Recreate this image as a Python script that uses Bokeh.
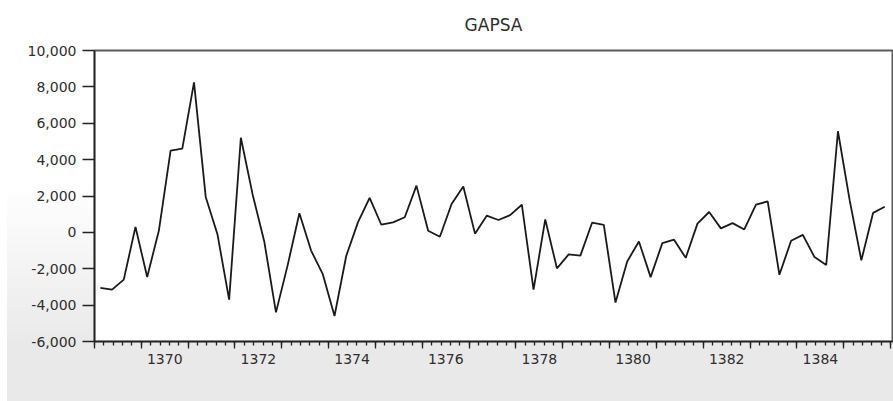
from bokeh.plotting import figure
from bokeh.models import Range1d, FixedTicker, LinearAxis, NumeralTickFormatter, ColumnDataSource
from bokeh.embed import file_html
from bokeh.resources import INLINE

# ---- data (quarterly, 1369Q1 .. 1385Q4) ----
series_name = "GAPSA"
start_year = 1369
end_year = 1386
quarters_per_year = 4
gapsa = [
    -3050, -3150, -2600, 300,
    -2450, 100, 4500, 4600,
    8250, 1950, -100, -3700,
    5200, 2100, -500, -4400,
    -1800, 1050, -1000, -2300,
    -4600, -1300, 550, 1900,
    420, 550, 830, 2570,
    90, -240, 1560, 2520,
    -70, 920, 680, 950,
    1520, -3150, 710, -1980,
    -1210, -1280, 530, 410,
    -3860, -1600, -500, -2460,
    -590, -400, -1400, 480,
    1120, 220, 510, 160,
    1520, 1700, -2330, -460,
    -140, -1360, -1790, 5560,
    1770, -1540, 1070, 1410,
]
x_label_years = [1370, 1372, 1374, 1376, 1378, 1380, 1382, 1384]
y_ticks = [-6000, -4000, -2000, 0, 2000, 4000, 6000, 8000, 10000]

# time position of each quarter (middle of the quarter)
t = [start_year + (i + 0.5) / quarters_per_year for i in range(len(gapsa))]
src = ColumnDataSource(dict(t=t, v=gapsa))

FONT = "DejaVu Sans"
TXT = "#2e2e2e"
AX = "#222222"

p = figure(width=893, height=401, output_backend="svg", toolbar_location=None,
           x_range=Range1d(start_year, end_year + 0.04), y_range=Range1d(-6000, 10000),
           x_axis_type=None, y_axis_type=None,
           min_border_left=94, min_border_right=1, min_border_top=50, min_border_bottom=60)

p.border_fill_color = None
p.styles = {"background": "linear-gradient(to right, #ffffff 0px, #ffffff 7px, rgba(255,255,255,0) 7px), "
                          "linear-gradient(to bottom, #ffffff 0%, #ffffff 46%, #e9e9e9 86%, #e9e9e9 100%)"}
p.background_fill_color = "white"
p.outline_line_color = "#5a5a5a"
p.outline_line_width = 2
p.xgrid.visible = False
p.ygrid.visible = False

p.title.text = series_name
p.title.align = "center"
p.title.vertical_align = "top"
p.title.text_font = FONT
p.title.text_font_size = "17px"
p.title.text_font_style = "normal"
p.title.text_color = TXT
p.title.standoff = 27

# y axis
yax = LinearAxis(ticker=FixedTicker(ticks=y_ticks, minor_ticks=[]),
                 formatter=NumeralTickFormatter(format="0,0"))
yax.major_tick_out = 12
yax.major_tick_in = 0
yax.major_tick_line_color = AX
yax.major_tick_line_width = 1.3
yax.axis_line_color = AX
yax.axis_line_width = 1.5
yax.major_label_text_font = FONT
yax.major_label_text_font_size = "14px"
yax.major_label_text_color = TXT
yax.major_label_standoff = 6
p.add_layout(yax, "left")

# x axis: tick marks only (years major, 5 minor intervals per year)
years = list(range(start_year, end_year + 1))
minor = [start_year + k * 0.2 for k in range((end_year - start_year) * 5 + 1)]
xax = LinearAxis(ticker=FixedTicker(ticks=years, minor_ticks=minor))
xax.major_tick_out = 7
xax.major_tick_in = 0
xax.minor_tick_out = 4
xax.minor_tick_in = 0
xax.major_tick_line_color = AX
xax.minor_tick_line_color = AX
xax.major_tick_line_width = 1.3
xax.minor_tick_line_width = 1.3
xax.axis_line_color = AX
xax.axis_line_width = 1.5
xax.major_label_text_color = None
xax.major_label_text_font_size = "1px"
xax.major_label_standoff = 0
p.add_layout(xax, "below")

# x axis: year labels centred on each labelled year
label_pos = [y + 0.5 for y in x_label_years]
xlab = LinearAxis(ticker=FixedTicker(ticks=label_pos, minor_ticks=[]),
                  major_label_overrides={pos: str(y) for pos, y in zip(label_pos, x_label_years)})
xlab.axis_line_color = None
xlab.major_tick_out = 0
xlab.major_tick_in = 0
xlab.major_tick_line_color = None
xlab.minor_tick_line_color = None
xlab.major_label_text_font = FONT
xlab.major_label_text_font_size = "14px"
xlab.major_label_text_color = TXT
xlab.major_label_standoff = 5
p.add_layout(xlab, "below")

p.line("t", "v", source=src, line_color="#1a1a1a", line_width=1.8)

open("out.html", "w").write(file_html(p, INLINE))
